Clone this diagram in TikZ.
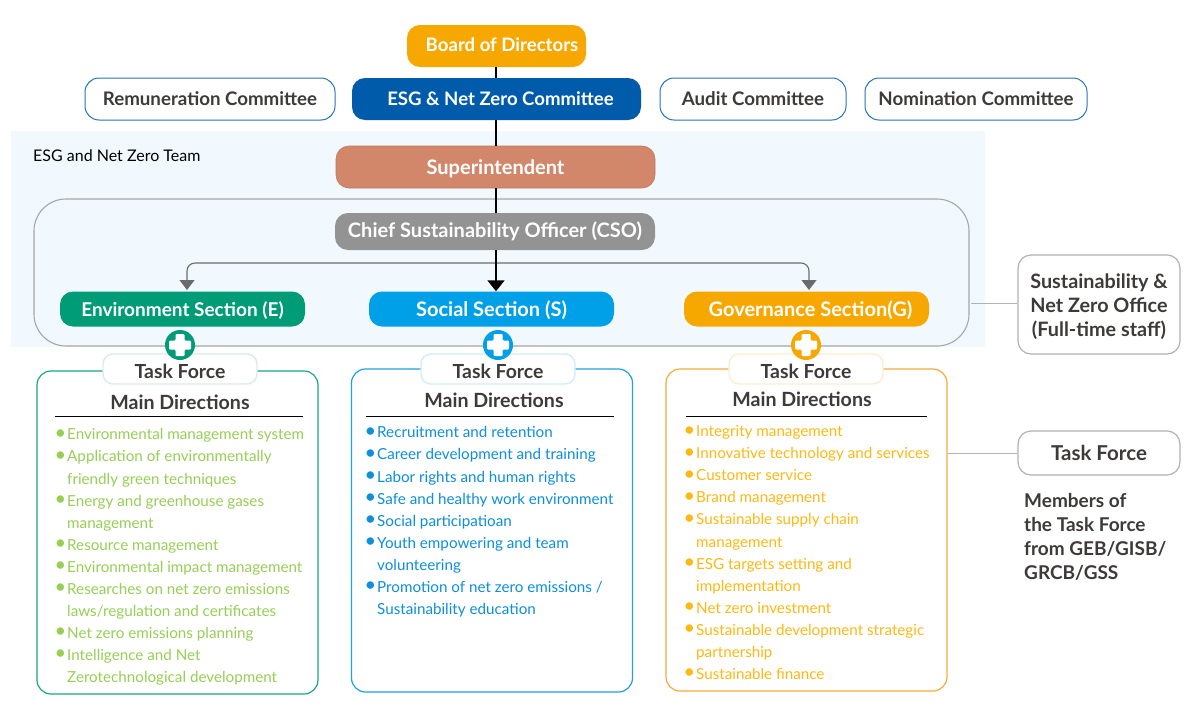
\documentclass[tikz,border=0pt]{standalone}
\usepackage{fontspec}
\setmainfont{Lato}
\usetikzlibrary{arrows.meta}
\definecolor{txt}{HTML}{3E3A39}
\definecolor{cgold}{HTML}{F7A800}
\definecolor{cblue}{HTML}{005BAB}
\definecolor{csup}{HTML}{D2866A}
\definecolor{ccso}{HTML}{939393}
\definecolor{cenv}{HTML}{009B77}
\definecolor{csoc}{HTML}{00A0E9}
\definecolor{bgblue}{HTML}{F2F9FE}
\definecolor{lgreen}{HTML}{97CF55}
\definecolor{lblue}{HTML}{0D8FDC}
\definecolor{lgold}{HTML}{FDB913}
\definecolor{pgreen}{HTML}{1BA784}
\definecolor{pblue}{HTML}{1EA1E0}
\definecolor{pgold}{HTML}{F5AB3C}
\definecolor{tgreen}{HTML}{D8ECE6}
\definecolor{tblue}{HTML}{D2ECF8}
\definecolor{tgold}{HTML}{FDEDD0}
\newcommand{\bul}{\llap{\raisebox{0.6pt}{\fontsize{20}{20}\selectfont •}\kern1pt}}
\newcommand{\dn}[2]{\raisebox{-#1}[0pt][0pt]{#2}}
\tikzset{
 x=1pt,y=-1pt,
 solidbox/.style={draw=none,rounded corners=13pt,inner sep=0pt,text=white,font=\fontsize{18.6}{20}\selectfont\bfseries,align=center},
 bigtext/.style={font=\fontsize{20}{22}\selectfont\bfseries},
 commbox/.style={draw=cblue!85,line width=1pt,fill=white,rounded corners=14pt,inner sep=0pt,text=txt,font=\fontsize{18.7}{20}\selectfont\bfseries,minimum height=42pt},
 sidebox/.style={draw=black!30,line width=1.2pt,fill=white,rounded corners=13pt,inner sep=0pt,text=txt,font=\fontsize{19.8}{24}\selectfont\bfseries,align=center,minimum width=162pt},
 panelbox/.style={line width=1.2pt,fill=white,rounded corners=14pt,inner sep=0pt,minimum width=281pt},
 tabbox/.style={line width=1.4pt,fill=white,rounded corners=10pt,inner sep=0pt,minimum width=154pt,minimum height=30pt,text=txt,font=\fontsize{19.4}{22}\selectfont\bfseries},
 headtext/.style={inner sep=0pt,text=txt,font=\fontsize{19.6}{22}\selectfont\bfseries},
 listtext/.style={inner sep=0pt,anchor=north west,align=left,font=\fontsize{15.2}{22.05}\selectfont},
 rulemark/.style={black,line width=1pt},
 flow/.style={black,line width=1.9pt},
 garrow/.style={draw=black!58,line width=1.1pt,rounded corners=8pt,-{Triangle[width=15pt,length=10pt,fill=black!58]}},
 link/.style={draw=black!30,line width=1pt}
}
\newcommand{\crossat}[2]{%
 \fill[white,rounded corners=1pt] (#1-4.5,#2-11)--(#1+4.5,#2-11)--(#1+4.5,#2-4.5)--(#1+11,#2-4.5)--(#1+11,#2+4.5)--(#1+4.5,#2+4.5)--(#1+4.5,#2+11)--(#1-4.5,#2+11)--(#1-4.5,#2+4.5)--(#1-11,#2+4.5)--(#1-11,#2-4.5)--(#1-4.5,#2-4.5)--cycle;}
\begin{document}
\begin{tikzpicture}
\useasboundingbox (0,0) rectangle (1200,720);
\fill[white] (0,0) rectangle (1200,720);
% team background
\node[fill=bgblue,inner sep=0pt,minimum width=974pt,minimum height=216pt] (teambg) at (498,239) {};
\node[draw=black!35,line width=1.1pt,rounded corners=32pt,inner sep=0pt,minimum width=935pt,minimum height=147pt] (office) at (501.5,272.5) {};
\node[inner sep=0pt,anchor=west,font=\fontsize{16}{18}\selectfont,text=black] (teamlabel) at (33,156) {ESG and Net Zero Team};
% top nodes
\node[solidbox,fill=cgold,minimum width=179pt,minimum height=42pt] (board) at (496.5,46) {\hspace*{11pt}\dn{5pt}{Board of Directors}};
\node[solidbox,fill=cblue,minimum width=289pt,minimum height=42pt] (esg) at (496.5,99) {\hspace*{8pt}ESG \& Net Zero Committee};
\node[commbox,minimum width=250pt] (rem) at (210,99) {Remuneration Committee};
\node[commbox,minimum width=186pt] (audit) at (753,99) {Audit Committee};
\node[commbox,minimum width=222pt] (nom) at (976,99) {Nomination Committee};
\node[solidbox,bigtext,fill=csup,draw=csup!90!black,line width=.6pt,minimum width=319pt,minimum height=42pt] (sup) at (495.5,167) {\dn{7pt}{Superintendent}};
\node[solidbox,bigtext,fill=ccso,minimum width=320pt,minimum height=37pt] (cso) at (495,231.5) {Chief Sustainability Officer (CSO)};
\node[solidbox,bigtext,fill=cenv,minimum width=245pt,minimum height=35pt] (env) at (182.5,309) {\dn{7.5pt}{\fontsize{19}{22}\selectfont Environment Section (E)}};
\node[solidbox,bigtext,fill=csoc,minimum width=245pt,minimum height=35pt] (soc) at (491.5,309) {\dn{7.5pt}{Social Section (S)}};
\node[solidbox,bigtext,fill=cgold,minimum width=245pt,minimum height=35pt] (gov) at (806.5,309) {\hspace*{8pt}\dn{7.5pt}{Governance Section(G)}};
% connectors
\coordinate (fork) at (496,263);
\draw[flow] (board.south -| fork) -- (esg.north -| fork);
\draw[flow] (esg.south -| fork) -- (sup.north -| fork);
\draw[flow] (sup.south -| fork) -- (cso.north -| fork);
\coordinate (envtip) at (187,290);
\coordinate (govtip) at (809,290);
\draw[garrow] (fork) -| (envtip);
\draw[garrow] (fork) -| (govtip);
\draw[flow,-{Triangle[width=17pt,length=11pt]}] (cso.south -| fork) -- (soc.north -| fork);
% panels
\node[panelbox,draw=pgreen,minimum height=323pt] (pe) at (177.5,532.5) {};
\node[panelbox,draw=pblue,minimum height=323pt] (ps) at (492,530.5) {};
\node[panelbox,draw=pgold,minimum height=322pt] (pg) at (806.5,530) {};
\node[tabbox,draw=tgreen] (te) at (180,369) {\dn{9pt}{Task Force}};
\node[tabbox,draw=tblue] (ts) at (498,369) {\dn{9pt}{Task Force}};
\node[tabbox,draw=tgold] (tg) at (806,369) {\dn{9pt}{Task Force}};
% plus marks
\foreach \n/\c/\xx in {me/cenv/180,ms/csoc/498,mg/cgold/806}{
 \node[circle,fill=\c,inner sep=0pt,minimum size=30pt] (\n) at (\xx,345) {};
 \crossat{\xx}{345}
}
% headings
\node[headtext] (he) at (180,402) {Main Directions};
\node[headtext] (hs) at (494,400) {Main Directions};
\node[headtext] (hg) at (802,399) {Main Directions};
\coordinate (rea) at (55,416); \coordinate (reb) at (303,416);
\coordinate (rsa) at (366,416); \coordinate (rsb) at (614,416);
\coordinate (rga) at (686,416); \coordinate (rgb) at (927,416);
\draw[rulemark] (rea)--(reb);
\draw[rulemark] (rsa)--(rsb);
\draw[rulemark] (rga)--(rgb);
% lists
\node[listtext,text=lgreen] (le) at (67,428.5) {%
\bul Environmental management system\\
\bul Application of environmentally\\
friendly green techniques\\
\bul Energy and greenhouse gases\\
management\\
\bul Resource management\\
\bul Environmental impact management\\
\bul Researches on net zero emissions\\
laws/regulation and certificates\\
\bul Net zero emissions planning\\
\bul Intelligence and Net\\
Zerotechnological development};
\node[listtext,text=lblue] (ls) at (377,426.5) {%
\bul Recruitment and retention\\
\bul Career development and training\\
\bul Labor rights and human rights\\
\bul Safe and healthy work environment\\
\bul Social participatioan\\
\bul Youth empowering and team\\
volunteering\\
\bul Promotion of net zero emissions /\\
Sustainability education};
\node[listtext,text=lgold] (lg) at (696,425.5) {%
\bul Integrity management\\
\bul Innovative technology and services\\
\bul Customer service\\
\bul Brand management\\
\bul Sustainable supply chain\\
management\\
\bul ESG targets setting and\\
implementation\\
\bul Net zero investment\\
\bul Sustainable development strategic\\
partnership\\
\bul Sustainable finance};
% right side
\node[sidebox,minimum height=99pt] (sno) at (1099,304.5) {\rule{0pt}{19pt}Sustainability \&\\Net Zero Office\\(Full-time staff)};
\node[sidebox,font=\fontsize{20.5}{24}\selectfont\bfseries,minimum height=44pt] (stf) at (1099,453) {Task Force};
\coordinate (offe) at (971,303);
\draw[link] (offe) -- (sno.west |- offe);
\draw[link] (pg.east |- stf) -- (stf.west);
\node[inner sep=0pt,anchor=north west,align=left,text=txt,font=\fontsize{19}{24}\selectfont\bfseries] (memb) at (1024,493.5) {Members of\\the Task Force\\from GEB/GISB/\\GRCB/GSS};
\end{tikzpicture}
\end{document}
